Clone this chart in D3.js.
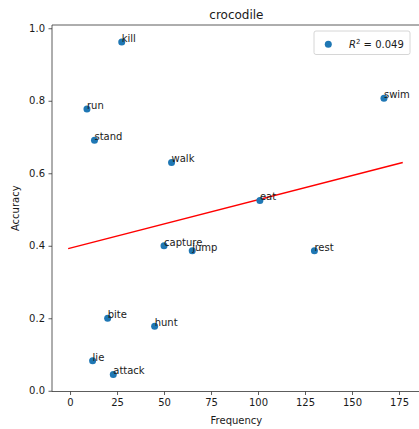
<!DOCTYPE html>
<html>
<head>
<meta charset="utf-8">
<script src="https://cdn.jsdelivr.net/npm/d3@7"></script>
<style>
  body { margin: 0; background: #fff; }
  text { font-family: "DejaVu Sans", sans-serif; fill: #1a1a1a; }
</style>
</head>
<body>
<svg id="chart" width="419" height="429"></svg>
<script>
const words = ['kill', 'run', 'stand', 'walk', 'swim', 'eat', 'capture', 'jump', 'rest', 'bite', 'hunt', 'lie', 'attack'];
const frequency = [27.5, 9, 13, 54, 167, 101, 50, 65, 130, 20, 45, 12, 23];
const accuracy = [0.962, 0.777, 0.691, 0.630, 0.807, 0.525, 0.400, 0.386, 0.386, 0.200, 0.178, 0.083, 0.045];
const xTicks = [0, 25, 50, 75, 100, 125, 150, 175];
const yTicks = [0.0, 0.2, 0.4, 0.6, 0.8, 1.0];
const title = 'crocodile';
const r2Label = '0.049';

const margin = {left: 52, top: 25, bottom: 37.5};
const width = 419, height = 429;

const x = d3.scaleLinear().domain([-9.6, 186.6]).range([margin.left, 420.8]);
const y = d3.scaleLinear().domain([-0.002, 1.009]).range([height - margin.bottom, margin.top]);

const svg = d3.select('#chart');

// least squares fit, drawn from min-10 to max+10
const mx = d3.mean(frequency), my = d3.mean(accuracy);
const slope = d3.sum(frequency, (v, i) => (v - mx) * (accuracy[i] - my)) / d3.sum(frequency, (v) => (v - mx) ** 2);
const intercept = my - slope * mx;
const fitX = [d3.min(frequency) - 10, d3.max(frequency) + 10];

svg.append('path')
  .datum(fitX)
  .attr('d', d3.line().x((d) => x(d)).y((d) => y(intercept + slope * d)))
  .attr('stroke', 'red').attr('stroke-width', 1.5).attr('fill', 'none');

const points = words.map((w, i) => ({word: w, f: frequency[i], a: accuracy[i]}));

svg.append('g').selectAll('circle')
  .data(points).enter().append('circle')
  .attr('cx', (d) => x(d.f)).attr('cy', (d) => y(d.a))
  .attr('r', 3.5).attr('fill', '#1f77b4');

svg.append('g').selectAll('text')
  .data(points).enter().append('text')
  .attr('x', (d) => x(d.f)).attr('y', (d) => y(d.a))
  .attr('font-size', 10).text((d) => d.word);

// axes
const xAxis = svg.append('g').attr('transform', `translate(0,${height - margin.bottom})`)
  .call(d3.axisBottom(x).tickValues(xTicks).tickFormat(d3.format('d')).tickSize(3.5).tickPadding(3.5));
const yAxis = svg.append('g').attr('transform', `translate(${margin.left},0)`)
  .call(d3.axisLeft(y).tickValues(yTicks).tickFormat(d3.format('.1f')).tickSize(3.5).tickPadding(3.5));
[xAxis, yAxis].forEach((a) => {
  a.select('.domain').attr('stroke', '#333').attr('stroke-width', 0.8);
  a.selectAll('.tick line').attr('stroke', '#333').attr('stroke-width', 0.8);
  a.selectAll('.tick text').attr('font-size', 10).attr('font-family', 'DejaVu Sans').attr('fill', '#1a1a1a');
});
xAxis.select('.domain').attr('d', `M${margin.left},0H${width}`);
yAxis.select('.domain').attr('d', `M0,${margin.top}V${height - margin.bottom}`);

svg.append('line')
  .attr('x1', margin.left).attr('x2', width).attr('y1', margin.top).attr('y2', margin.top)
  .attr('stroke', '#333').attr('stroke-width', 0.8);

svg.append('text').attr('x', 236.4).attr('y', 18.5).attr('text-anchor', 'middle')
  .attr('font-size', 12).text(title);
svg.append('text').attr('x', 236.4).attr('y', 424).attr('text-anchor', 'middle')
  .attr('font-size', 10).text('Frequency');
svg.append('text').attr('transform', `translate(18.5,${(margin.top + height - margin.bottom) / 2}) rotate(-90)`)
  .attr('text-anchor', 'middle').attr('font-size', 10).text('Accuracy');

// legend
const legend = svg.append('g').attr('transform', 'translate(314,31)');
legend.append('rect').attr('width', 96).attr('height', 23.5).attr('rx', 2)
  .attr('fill', '#fff').attr('fill-opacity', 0.8).attr('stroke', '#ccc').attr('stroke-width', 0.8);
legend.append('circle').attr('cx', 14.3).attr('cy', 13.3).attr('r', 3.5).attr('fill', '#1f77b4');
const lt = legend.append('text').attr('x', 35).attr('y', 16.5).attr('font-size', 10);
lt.append('tspan').attr('font-style', 'italic').text('R');
lt.append('tspan').attr('font-size', 7).attr('dy', -4).text('2');
lt.append('tspan').attr('dy', 4).text(` = ${r2Label}`);
</script>
</body>
</html>
